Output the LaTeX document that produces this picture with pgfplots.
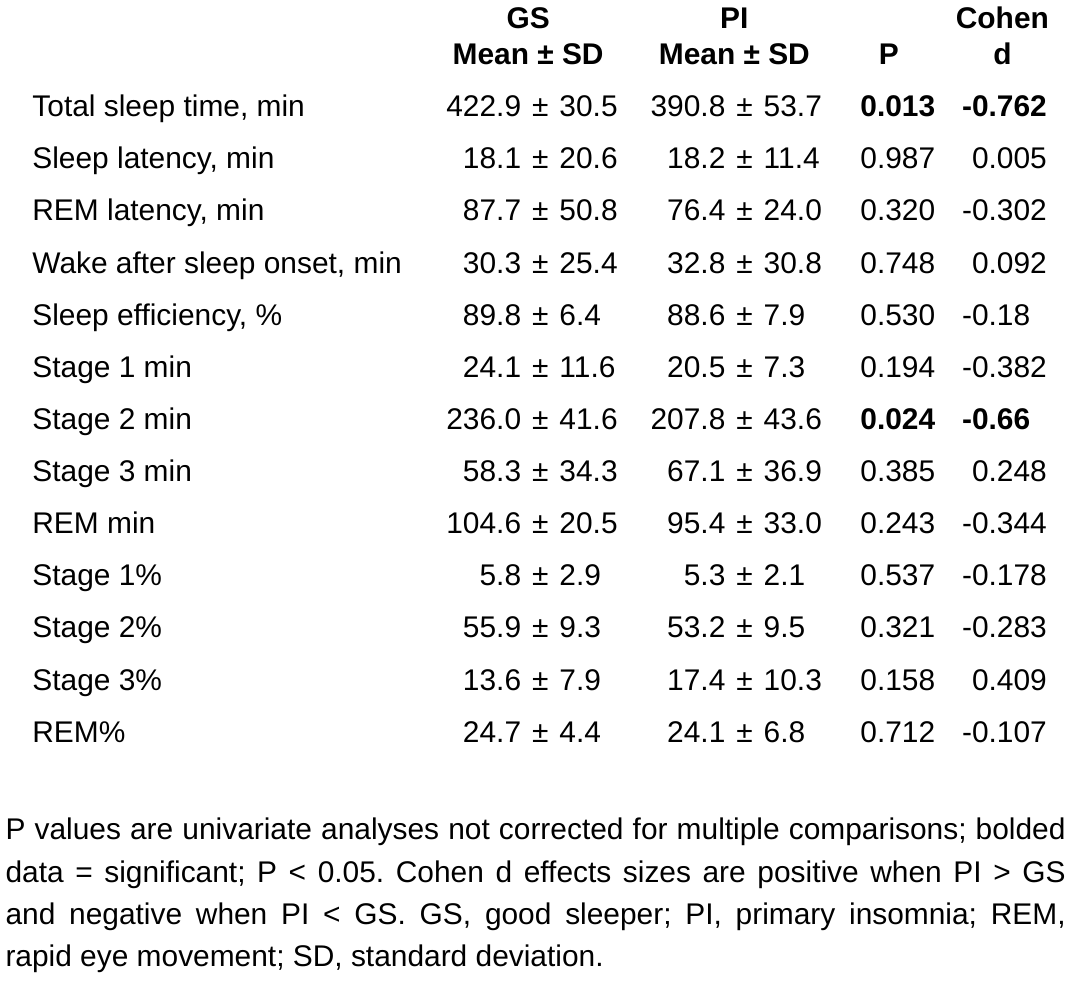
\documentclass[border=0pt]{standalone}
\usepackage{fontspec}
\setmainfont{Liberation Sans}
\usepackage{pgfplots}
\pgfplotsset{compat=1.18}
\frenchspacing
\newcommand\F{\fontsize{30}{36}\selectfont}
% row: baseline y, label, GS mean, GS sd, PI mean, PI sd, P, d
\newcommand\trow[8]{%
  \node[anchor=base west] at (axis cs:29,#1) {\F #2};
  \node[anchor=base west] at (axis cs:530.5,#1) {\F\llap{#3\hspace{11pt}}±\hspace{11pt}#4};
  \node[anchor=base west] at (axis cs:735.5,#1) {\F\llap{#5\hspace{11pt}}±\hspace{11pt}#6};
  \node[anchor=base west] at (axis cs:860,#1) {\F #7};
  \node[anchor=base west] at (axis cs:972,#1) {\F #8};
}
\begin{document}%
\begin{tikzpicture}
\begin{axis}[hide axis, scale only axis, width=1069pt, height=992pt,
  xmin=0, xmax=1069, ymin=0, ymax=992, y dir=reverse, clip=false,
  every node/.append style={inner sep=0pt, outer sep=0pt}]
\addplot[draw=none] coordinates {(0,0) (1069,992)};
\path (axis cs:0,0) rectangle (axis cs:1069,992);
% header
\node[anchor=base] at (axis cs:530,29) {\F\textbf{GS}};
\node[anchor=base] at (axis cs:530,65) {\F\textbf{Mean ± SD}};
\node[anchor=base] at (axis cs:737,29) {\F\textbf{PI}};
\node[anchor=base] at (axis cs:737,65) {\F\textbf{Mean ± SD}};
\node[anchor=base] at (axis cs:892,65) {\F\textbf{P}};
\node[anchor=base] at (axis cs:1006,29) {\F\textbf{Cohen}};
\node[anchor=base] at (axis cs:1006,65) {\F\textbf{d}};
% body
\trow{117.0}{Total sleep time, min}{422.9}{30.5}{390.8}{53.7}{\textbf{0.013}}{\textbf{\llap{-}0.762}}
\trow{169.3}{Sleep latency, min}{18.1}{20.6}{18.2}{11.4}{0.987}{0.005}
\trow{221.7}{REM latency, min}{87.7}{50.8}{76.4}{24.0}{0.320}{\llap{-}0.302}
\trow{274.0}{Wake after sleep onset, min}{30.3}{25.4}{32.8}{30.8}{0.748}{0.092}
\trow{326.3}{Sleep efficiency, \%}{89.8}{6.4}{88.6}{7.9}{0.530}{\llap{-}0.18}
\trow{378.7}{Stage 1 min}{24.1}{11.6}{20.5}{7.3}{0.194}{\llap{-}0.382}
\trow{431.0}{Stage 2 min}{236.0}{41.6}{207.8}{43.6}{\textbf{0.024}}{\textbf{\llap{-}0.66}}
\trow{483.3}{Stage 3 min}{58.3}{34.3}{67.1}{36.9}{0.385}{0.248}
\trow{535.7}{REM min}{104.6}{20.5}{95.4}{33.0}{0.243}{\llap{-}0.344}
\trow{588.0}{Stage 1\%}{5.8}{2.9}{5.3}{2.1}{0.537}{\llap{-}0.178}
\trow{640.3}{Stage 2\%}{55.9}{9.3}{53.2}{9.5}{0.321}{\llap{-}0.283}
\trow{692.7}{Stage 3\%}{13.6}{7.9}{17.4}{10.3}{0.158}{0.409}
\trow{745.0}{REM\%}{24.7}{4.4}{24.1}{6.8}{0.712}{\llap{-}0.107}
% footnote
\node[anchor=base west] at (axis cs:2,843) {\F\makebox[1064pt][s]{P values are univariate analyses not corrected for multiple comparisons; bolded}};
\node[anchor=base west] at (axis cs:2,885.5) {\F\makebox[1064pt][s]{data = significant; P < 0.05. Cohen d effects sizes are positive when PI > GS}};
\node[anchor=base west] at (axis cs:2,927.5) {\F\makebox[1064pt][s]{and negative when PI < GS. GS, good sleeper; PI, primary insomnia; REM,}};
\node[anchor=base west] at (axis cs:2,970) {\F rapid eye movement; SD, standard deviation.};
\end{axis}
\end{tikzpicture}%
\end{document}
